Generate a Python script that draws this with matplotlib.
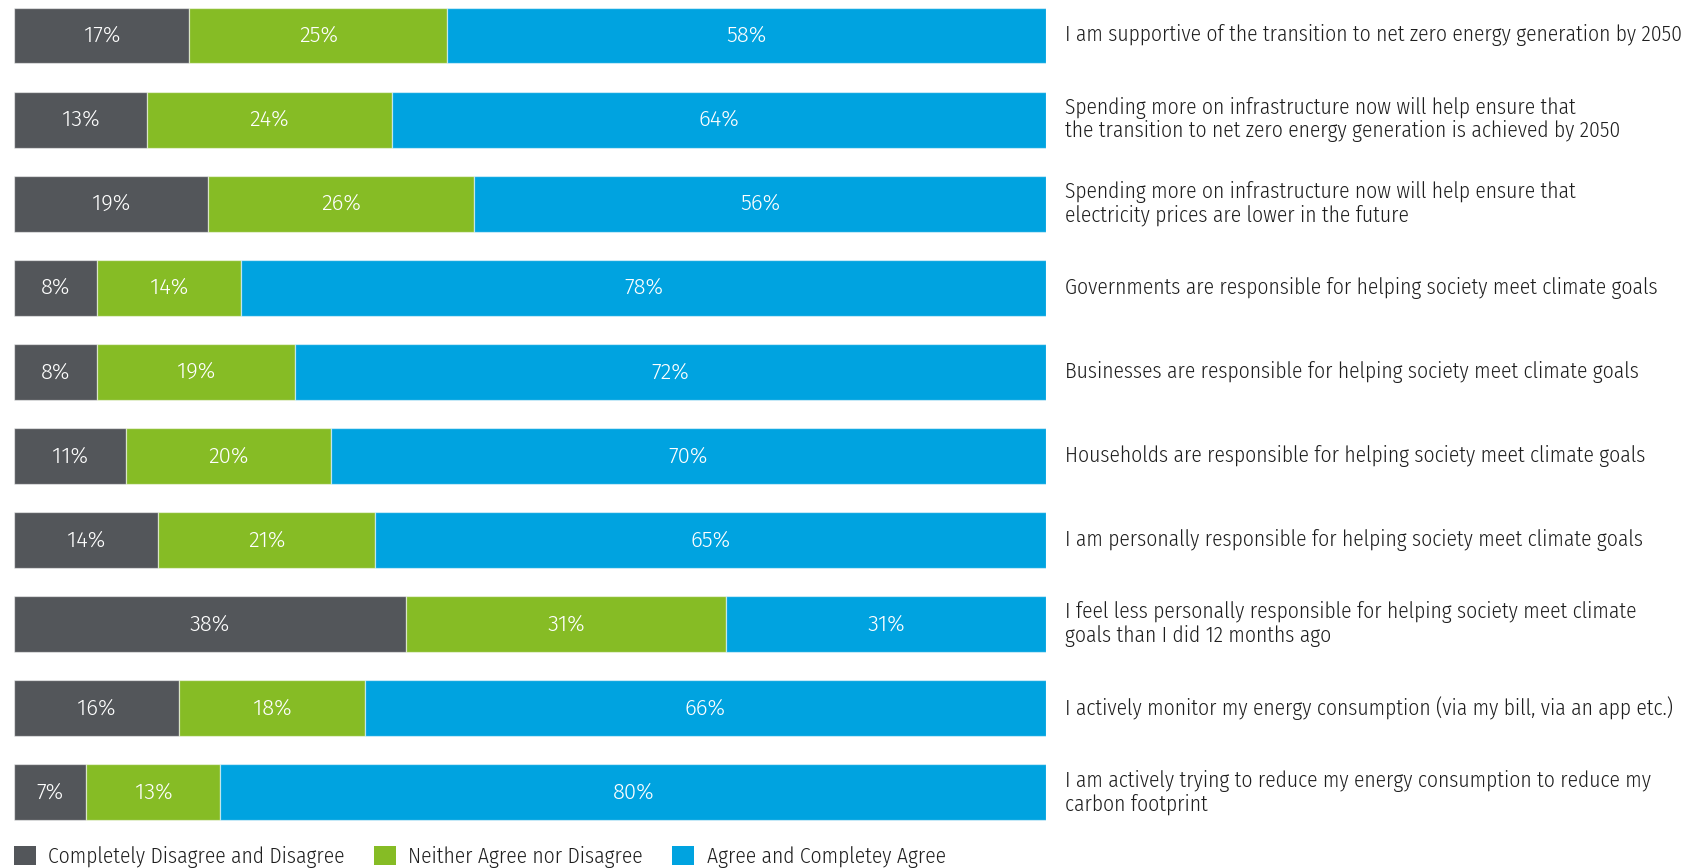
import matplotlib
matplotlib.use("Agg")
import matplotlib.pyplot as plt
import matplotlib.transforms as mtransforms
from matplotlib.patches import Patch
import numpy as np

plt.rcParams['font.family'] = ['Fira Sans Condensed', 'DejaVu Sans']
plt.rcParams['font.weight'] = 300

statements = [
    "I am supportive of the transition to net zero energy generation by 2050",
    "Spending more on infrastructure now will help ensure that\nthe transition to net zero energy generation is achieved by 2050",
    "Spending more on infrastructure now will help ensure that\nelectricity prices are lower in the future",
    "Governments are responsible for helping society meet climate goals",
    "Businesses are responsible for helping society meet climate goals",
    "Households are responsible for helping society meet climate goals",
    "I am personally responsible for helping society meet climate goals",
    "I feel less personally responsible for helping society meet climate\ngoals than I did 12 months ago",
    "I actively monitor my energy consumption (via my bill, via an app etc.)",
    "I am actively trying to reduce my energy consumption to reduce my\ncarbon footprint",
]
disagree = [17, 13, 19, 8, 8, 11, 14, 38, 16, 7]
neutral = [25, 24, 26, 14, 19, 20, 21, 31, 18, 13]
agree = [58, 64, 56, 78, 72, 70, 65, 31, 66, 80]

series_names = ["Completely Disagree and Disagree", "Neither Agree nor Disagree",
                "Agree and Completey Agree"]
colors = ["#53565A", "#86BC25", "#00A3E0"]
text_color = "#1e1e1e"

values = np.array([disagree, neutral, agree], dtype=float)
shares = values / values.sum(axis=0) * 100  # each bar spans the full row
y = np.arange(len(statements))

W, H = 1686, 868
fig = plt.figure(figsize=(W / 100, H / 100), dpi=100)
ax = fig.add_axes([14 / W, 1 - 834 / H, (1046 - 14) / W, 834 / H])

left = np.zeros(len(statements))
for vals, shr, col in zip(values, shares, colors):
    ax.barh(y, shr, left=left, height=0.665, color=col,
            edgecolor=(1, 1, 1, 0.55), linewidth=0.9)
    for yi, l, s, v in zip(y, left, shr, vals):
        ax.text(l + s / 2, yi, f"{v:.0f}%", ha='center', va='center',
                color='white', fontsize=16, family=['Fira Sans', 'DejaVu Sans'],
                weight=300)
    left += shr

ax.set_xlim(0, 100)
ax.set_ylim(9.494, -0.422)
ax.axis('off')

trans = mtransforms.blended_transform_factory(fig.transFigure, ax.transData)
for yi, s in zip(y, statements):
    fig.text(1065 / W, yi, s, transform=trans, ha='left', va='center',
             fontsize=15.5, color=text_color, linespacing=1.1)

handles = [Patch(facecolor=c, edgecolor='none') for c in colors]
fig.legend(handles, series_names, loc='center left',
           bbox_to_anchor=(14 / W, 1 - 857 / H), ncol=3, frameon=False,
           fontsize=15.5, handlelength=1.0, handleheight=1.0,
           handletextpad=0.6, columnspacing=1.35, borderpad=0, borderaxespad=0,
           labelcolor=text_color)

fig.savefig("out.png", dpi=100)
